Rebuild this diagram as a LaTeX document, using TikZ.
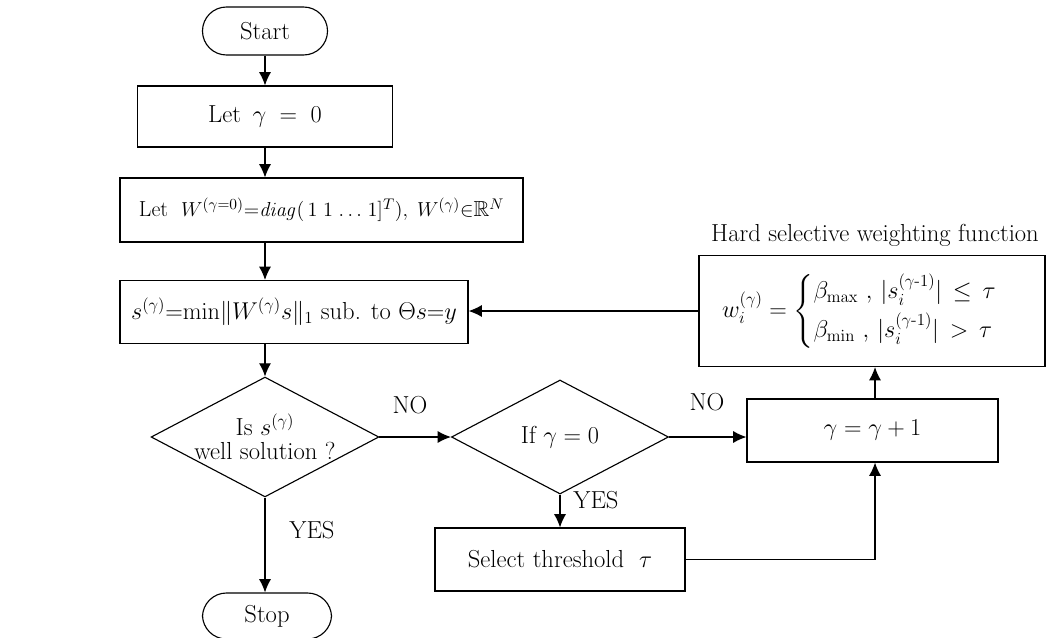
\documentclass[tikz,border=0pt]{standalone}
\usepackage{amsmath,amssymb}
\usetikzlibrary{shapes.geometric,arrows.meta,calc}
\tikzset{
  txt/.style={font=\fontsize{17.5}{21}\selectfont},
  box/.style={txt,draw,line width=0.8pt,rectangle,inner sep=0pt,align=center},
  term/.style={txt,draw,line width=0.8pt,rectangle,rounded corners=0.6cm,inner sep=0pt},
  dec/.style={txt,draw,line width=0.8pt,diamond,inner sep=0pt,align=center},
  conn/.style={line width=0.8pt,-{Latex[length=0.33cm,width=0.3cm]}},
  plain/.style={line width=0.8pt},
  lbl/.style={txt}
}
\begin{document}
\begin{tikzpicture}[x=0.025cm,y=-0.025cm]
\useasboundingbox (0,0) rectangle (1057,637);
% nodes
\node[term,minimum width=3.125cm,minimum height=1.2cm] (start) at (265,31) {Start};
\node[box,minimum width=6.375cm,minimum height=1.525cm] (let) at (265,116.5) {Let \,$\gamma \;=\; 0$};
\node[box,font=\fontsize{15.5}{19}\selectfont,minimum width=10.075cm,minimum height=1.6cm] (W) at (321.5,210)
  {Let\ \ $W^{(\gamma=0)}{=}\mathit{diag}(\,1\;1\;{\ldots}\;1]^{T}),\; W^{(\gamma)}{\in}\mathbb{R}^{N}$};
\node[box,minimum width=8.7cm,minimum height=1.575cm] (s) at (294,312)
  {$s^{(\gamma)}{=}\mathrm{min}\|W^{(\gamma)}s\|_1$ sub. to $\Theta s{=}y$};
\node[dec,shape aspect=1.9,minimum width=5.55cm,minimum height=2.85cm] (d1) at (265,437)
  {Is $s^{(\gamma)}$\\[-4pt] well solution ?};
\node[term,minimum width=3.225cm,minimum height=1.15cm] (stop) at (267,616) {Stop};
\node[dec,shape aspect=1.9,minimum width=5.425cm,minimum height=2.85cm] (d2) at (560,437) {If $\gamma = 0$};
\node[box,minimum width=6.25cm,minimum height=1.575cm] (sel) at (560,559.5) {Select threshold \ $\tau$};
\node[box,minimum width=6.275cm,minimum height=1.575cm] (gam) at (872.5,430.5) {$\gamma = \gamma + 1$};
\node[box,minimum width=8.65cm,minimum height=2.775cm] (wb) at (872,311)
  {$w_i^{(\gamma)} = \begin{cases} \beta_{\max}\ ,\,|s_i^{(\gamma\text{-}1)}| \,\le\, \tau \\[2pt] \beta_{\min}\ ,\,|s_i^{(\gamma\text{-}1)}| \,>\, \tau \end{cases}$};
\node[lbl] (title) at (875,235) {Hard selective weighting function};
\node[lbl] (no1) at (410,405) {NO};
\node[lbl] (no2) at (707,402) {NO};
\node[lbl] (yes1) at (312,530) {YES};
\node[lbl] (yes2) at (596,500) {YES};
% connectors
\draw[conn] (start.south) -- (let.north);
\draw[conn] (let.south) -- (let.south |- W.north);
\draw[conn] (let.south |- W.south) -- (let.south |- s.north);
\draw[conn] (d1.north |- s.south) -- (d1.north);
\draw[conn] (d1.south) -- (d1.south |- stop.north);
\draw[conn] (d1.east) -- (d2.west);
\draw[conn] (d2.east) -- (d2.east -| gam.west);
\draw[conn] (d2.south) -- (sel.north);
\coordinate (c1) at ($(sel.east -| gam.south)+(2.5,0)$);
\draw[plain] (sel.east) -- (c1);
\draw[conn] (c1) -- (c1 |- gam.south);
\draw[conn] (c1 |- gam.north) -- (c1 |- wb.south);
\draw[conn] (wb.west) -- (wb.west -| s.east);
\end{tikzpicture}
\end{document}
